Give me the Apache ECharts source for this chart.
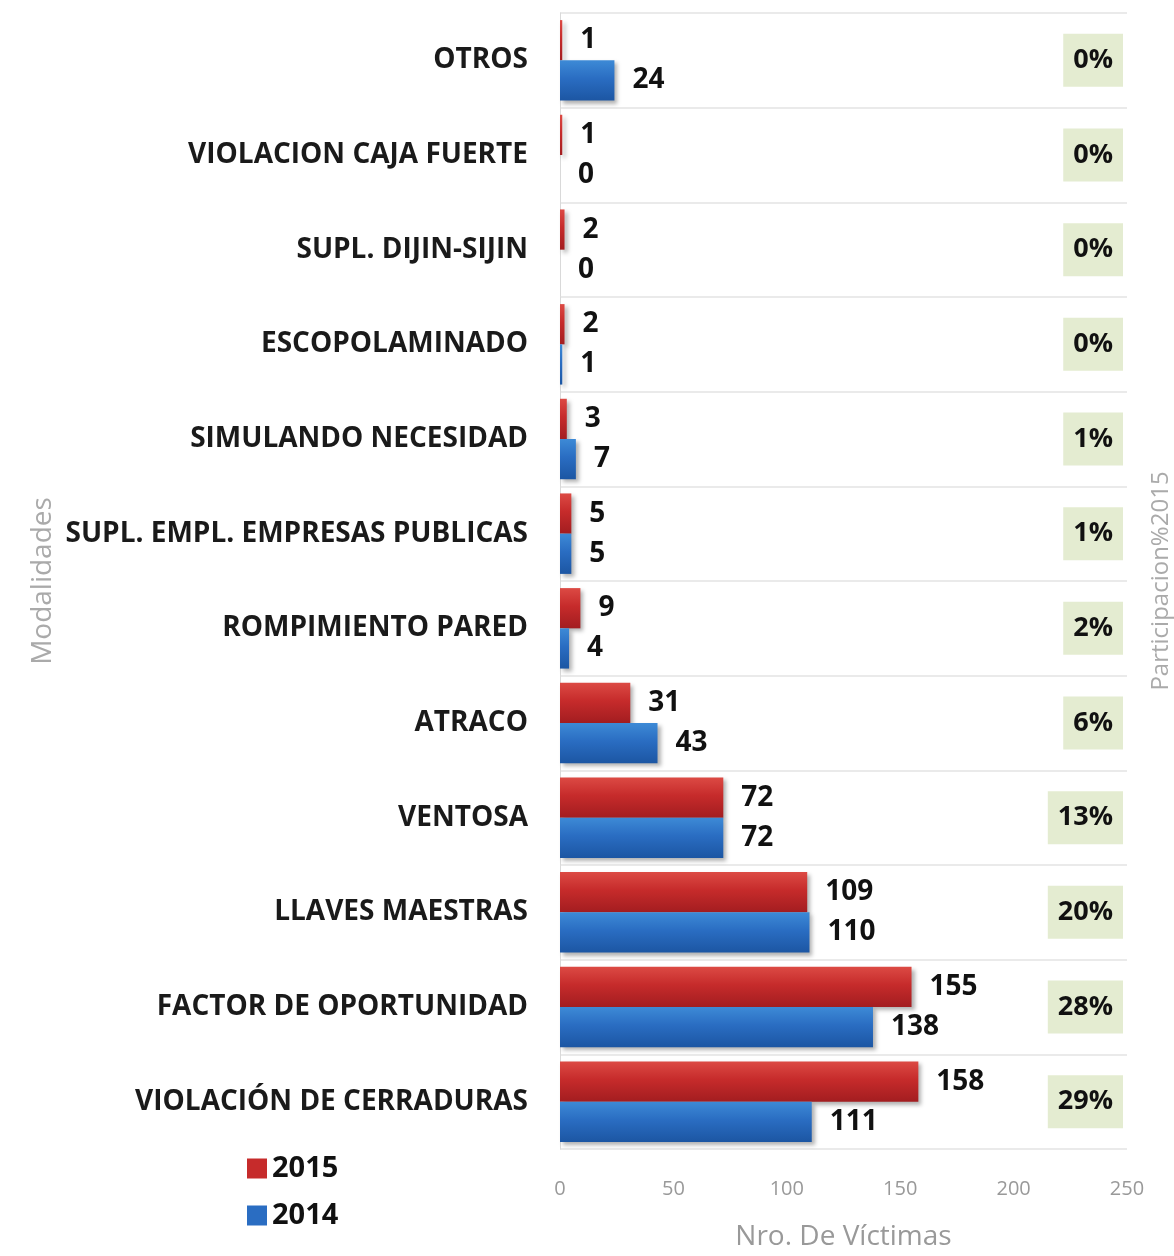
<!DOCTYPE html>
<html>
<head>
<meta charset="utf-8">
<script src="https://cdn.jsdelivr.net/npm/echarts@6/dist/echarts.min.js"></script>
<style>html,body{margin:0;padding:0;background:#fff;}#c{width:1174px;height:1256px;}</style>
</head>
<body>
<div id="c"></div>
<script>
const categories = ['OTROS','VIOLACION CAJA FUERTE','SUPL. DIJIN-SIJIN','ESCOPOLAMINADO','SIMULANDO NECESIDAD','SUPL. EMPL. EMPRESAS PUBLICAS','ROMPIMIENTO PARED','ATRACO','VENTOSA','LLAVES MAESTRAS','FACTOR DE OPORTUNIDAD','VIOLACIÓN DE CERRADURAS'];
const values2015 = [1,1,2,2,3,5,9,31,72,109,155,158];
const values2014 = [24,0,0,1,7,5,4,43,72,110,138,111];
const participacion2015 = ['0%','0%','0%','0%','1%','1%','2%','6%','13%','20%','28%','29%'];
const xTicks = [0,50,100,150,200,250];

const font = '"Open Sans", Lato, sans-serif';
function grad(c1,c2,c3){
  return new echarts.graphic.LinearGradient(0,0,0,1,[{offset:0,color:c1},{offset:0.45,color:c2},{offset:1,color:c3}]);
}
const red = grad('#dc4a44','#c62b2b','#a31d20');
const blue = grad('#3d8ad6','#2a6dc2','#1c56a3');
const chart = echarts.init(document.getElementById('c'));
const labelStyle = {show:true, position:'right', distance:18, color:'#111', fontWeight:'bold', fontSize:28, fontFamily:font};
chart.setOption({
  animation:false,
  backgroundColor:'#fff',
  grid:{left:560, right:36, top:13, bottom:98},
  legend:{
    orient:'vertical', left:242, top:1149, itemWidth:20, itemHeight:20, itemGap:18,
    icon:'rect',
    textStyle:{fontSize:29, fontWeight:'bold', color:'#111', fontFamily:font},
    data:[{name:'2015', itemStyle:{color:'#c62b2b'}},{name:'2014', itemStyle:{color:'#2a6dc2'}}]
  },
  xAxis:{
    type:'value', min:xTicks[0], max:xTicks[xTicks.length-1], interval:50,
    axisLine:{show:false}, axisTick:{show:false}, splitLine:{show:false},
    axisLabel:{color:'#999', fontSize:20, fontFamily:font, margin:30},
    name:'Nro. De Víctimas', nameLocation:'middle', nameGap:74,
    nameTextStyle:{color:'#999', fontSize:28, fontFamily:font}
  },
  yAxis:[{
    type:'category', data:categories, inverse:true,
    axisLine:{show:true, lineStyle:{color:'#d9d9d9'}}, axisTick:{show:false},
    splitLine:{show:true, lineStyle:{color:'#e3e3e3', width:1.5}},
    axisLabel:{color:'#1a1a1a', fontSize:28, fontWeight:'bold', fontFamily:font, margin:32},
    name:'Modalidades', nameLocation:'middle', nameRotate:90, nameGap:503,
    nameTextStyle:{color:'#aaa', fontSize:28, fontFamily:font}
  },{
    type:'category', data:participacion2015, inverse:true, position:'right',
    axisLine:{show:false}, axisTick:{show:false}, splitLine:{show:false},
    axisLabel:{inside:true, margin:4, color:'#111', fontSize:27, fontWeight:'bold', fontFamily:font,
      backgroundColor:'#e4ecd1', padding:[13,10,13,10]},
    name:'Participacion%2015', nameLocation:'middle', nameRotate:90, nameGap:22,
    nameTextStyle:{color:'#aaa', fontSize:24, fontFamily:font}
  }],
  series:[{
    name:'2015', type:'bar', data:values2015, barGap:'0%', barCategoryGap:'15%',
    itemStyle:{color:red, shadowBlur:4, shadowOffsetX:3, shadowOffsetY:3, shadowColor:'rgba(0,0,0,0.3)'},
    label:labelStyle
  },{
    name:'2014', type:'bar', data:values2014, barGap:'0%', barCategoryGap:'15%',
    itemStyle:{color:blue, shadowBlur:4, shadowOffsetX:3, shadowOffsetY:3, shadowColor:'rgba(0,0,0,0.3)'},
    label:labelStyle
  }]
});
</script>
</body>
</html>
